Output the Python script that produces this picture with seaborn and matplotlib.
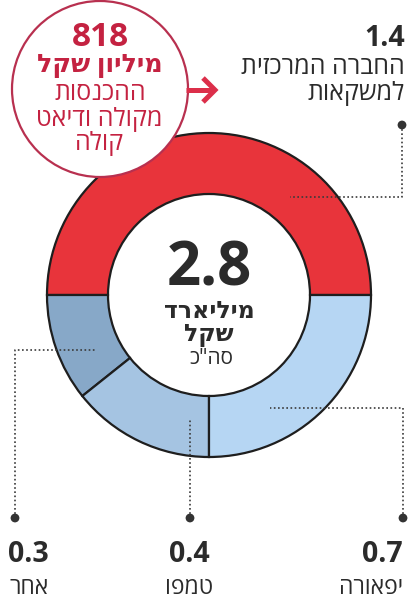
import matplotlib
matplotlib.use("Agg")
import matplotlib.pyplot as plt
import seaborn as sns

sns.set_theme(style="white")
plt.rcParams['font.family'] = ['Open Sans', 'DejaVu Sans']

# Data: revenue by company, billion shekel
labels = ["החברה המרכזית למשקאות", "אחר", "טמפו", "יפאורה"]
values = [1.4, 0.3, 0.4, 0.7]
colors = ["#e8343b", "#87a8c8", "#a5c4e2", "#b6d6f3"]
callout_value = 818
total = round(sum(values), 1)

TXT = "#2b2b2b"
RED_TXT = "#c42241"


def heb(s):
    # matplotlib has no bidi, so reverse hebrew strings
    return s[::-1]


fig = plt.figure(figsize=(4.09, 6.02), dpi=100)
ax = fig.add_axes([0, 0, 1, 1])

# donut (y axis inverted below, so counterclock=False draws ccw on screen)
ax.pie(values, colors=colors, startangle=0, counterclock=False,
       radius=162, center=(209, 295),
       wedgeprops=dict(width=61, edgecolor="#1e1e1e", linewidth=1.6))
ax.set_xlim(0, 409)
ax.set_ylim(602, 0)
ax.set_aspect("equal")
ax.axis("off")

# center text
ax.text(209, 285, f"{total}", ha="center", va="baseline", fontsize=43,
        fontweight="bold", color=TXT)
ax.text(209, 318, heb("מיליארד"), ha="center", va="baseline", fontsize=17,
        fontweight="bold", color=TXT)
ax.text(209, 341, heb("שקל"), ha="center", va="baseline", fontsize=17,
        fontweight="bold", color=TXT)
ax.text(211, 364, heb('סה"כ'), ha="center", va="baseline", fontsize=15,
        color=TXT)

# callout circle
circ = plt.Circle((100, 89), 88, facecolor="white", edgecolor="#b8304f",
                  linewidth=1.6, zorder=5)
ax.add_patch(circ)
ax.text(100, 38, f"{callout_value}", ha="center", va="center", fontsize=24,
        fontweight="bold", color=RED_TXT, zorder=6)
ax.text(100, 66, heb("מיליון שקל"), ha="center", va="center", fontsize=18.3,
        fontweight="bold", color=RED_TXT, zorder=6)
ax.text(100, 94, heb("ההכנסות"), ha="center", va="center", fontsize=18,
        color=RED_TXT, zorder=6)
ax.text(99, 119, heb("מקולה ודיאט"), ha="center", va="center", fontsize=18,
        color=RED_TXT, zorder=6)
ax.text(99, 144, heb("קולה"), ha="center", va="center", fontsize=18,
        color=RED_TXT, zorder=6)

# arrow
arrow_kw = dict(color="#dc2f4a", linewidth=3.6, zorder=6)
ax.plot([186, 214], [90, 90], solid_capstyle="butt", **arrow_kw)
ax.plot([203, 215, 203], [78, 90, 102], solid_joinstyle="miter",
        solid_capstyle="butt", **arrow_kw)

# leader lines
line_kw = dict(color="#3a3a3a", linestyle=(0, (1, 1.5)), linewidth=1.2, zorder=4)
ax.plot([402, 402, 290], [125, 197, 197], **line_kw)
ax.plot([403, 403, 270], [518, 408, 408], **line_kw)
ax.plot([190, 190], [518, 420], **line_kw)
ax.plot([15, 15, 95], [518, 350, 350], **line_kw)
dots_x = [402, 403, 190, 15]
dots_y = [125, 518, 518, 518]
sns.scatterplot(x=dots_x, y=dots_y, s=40, color="#333333", edgecolor="none",
                ax=ax, zorder=5, legend=False)

# segment labels
ax.text(405, 39, f"{values[0]}", ha="right", va="center", fontsize=20.5,
        fontweight="bold", color=TXT)
ax.text(405, 67, heb("החברה המרכזית"), ha="right", va="center", fontsize=18,
        color=TXT)
ax.text(405, 94, heb("למשקאות"), ha="right", va="center", fontsize=18,
        color=TXT)

ax.text(8, 554, f"{values[1]}", ha="left", va="center", fontsize=20.5,
        fontweight="bold", color=TXT)
ax.text(9, 588, heb(labels[1]), ha="left", va="center", fontsize=16.5, color=TXT)

ax.text(189, 554, f"{values[2]}", ha="center", va="center", fontsize=20.5,
        fontweight="bold", color=TXT)
ax.text(189, 588, heb(labels[2]), ha="center", va="center", fontsize=16.5,
        color=TXT)

ax.text(403, 554, f"{values[3]}", ha="right", va="center", fontsize=20.5,
        fontweight="bold", color=TXT)
ax.text(403, 588, heb(labels[3]), ha="right", va="center", fontsize=16.5,
        color=TXT)

fig.savefig("out.png", dpi=100, facecolor="white")
